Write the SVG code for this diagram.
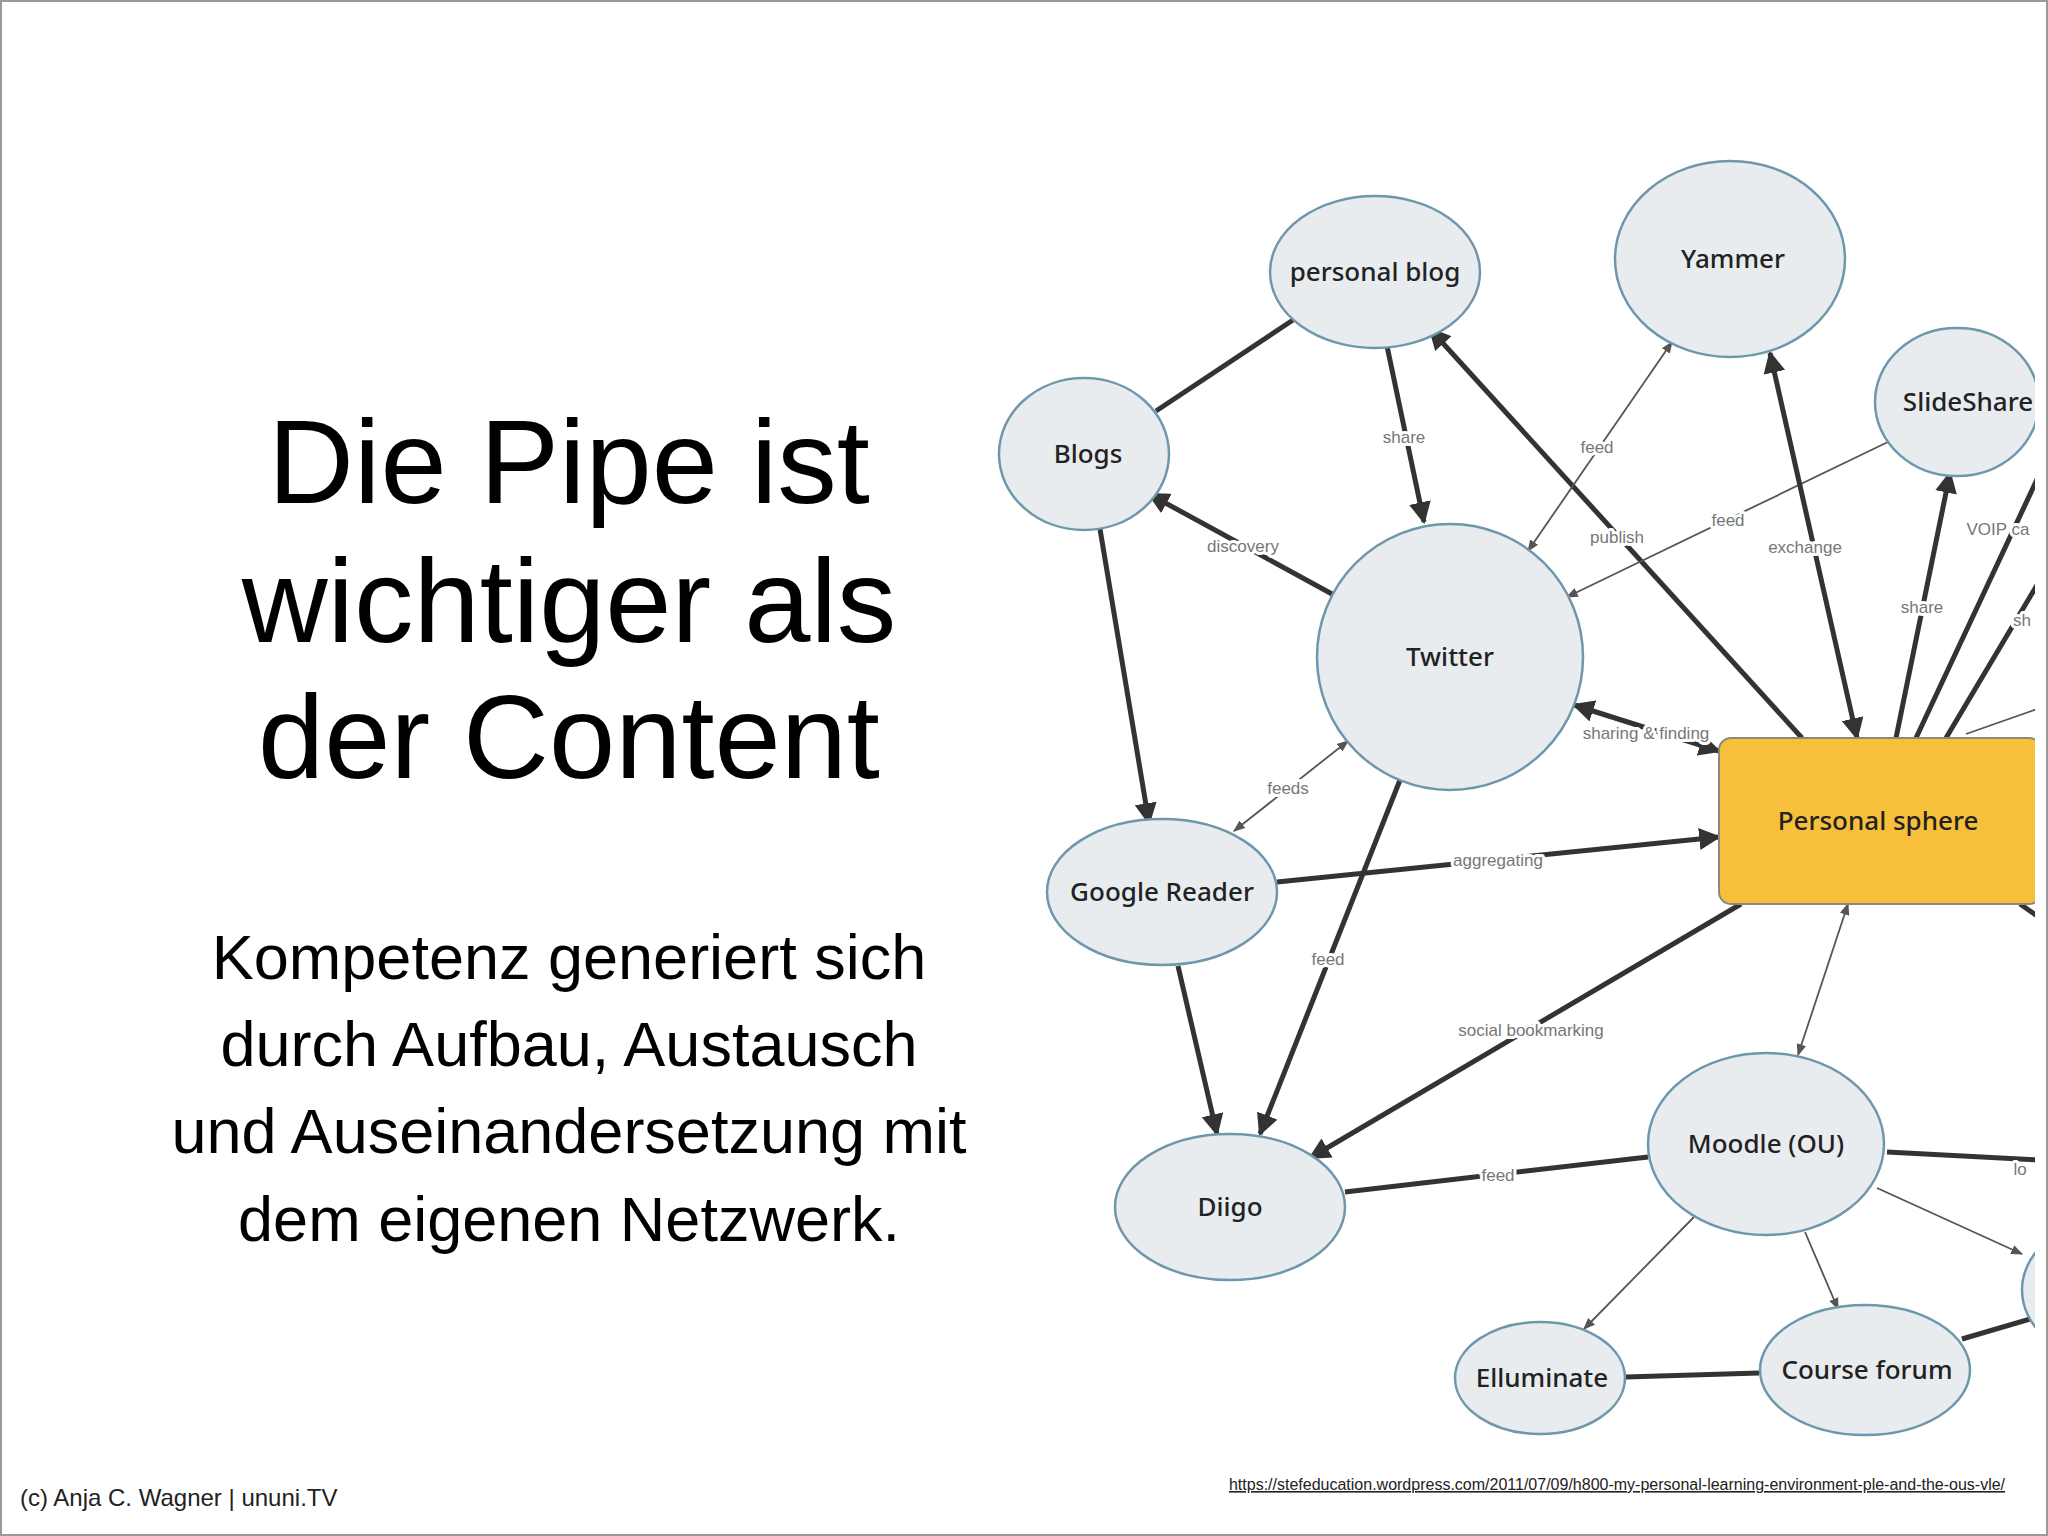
<svg xmlns="http://www.w3.org/2000/svg" width="2048" height="1536" viewBox="0 0 2048 1536">
<style>
.n{fill:#e9ecef;stroke:#6f97ab;stroke-width:2.5}
.nt{font-family:"Noto Sans","DejaVu Sans",sans-serif;font-weight:500;font-size:26px;fill:#222;text-anchor:middle}
.k{stroke:#333;stroke-width:5;fill:none}
.t{stroke:#555;stroke-width:1.8;fill:none}
.l{font-family:"Liberation Sans Narrow","Liberation Sans",sans-serif;font-size:17px;fill:#777;text-anchor:middle;stroke:#fff;stroke-width:6;paint-order:stroke;stroke-linejoin:round}
.h{font-family:"Liberation Sans",Arial,sans-serif;fill:#000;text-anchor:middle}
</style>
<defs>
<marker id="ak" viewBox="0 0 10 10" refX="9" refY="5" markerWidth="22" markerHeight="22" markerUnits="userSpaceOnUse" orient="auto-start-reverse"><path d="M0,0L10,5L0,10z" fill="#333"/></marker>
<marker id="at" viewBox="0 0 10 10" refX="9" refY="5" markerWidth="12" markerHeight="12" markerUnits="userSpaceOnUse" orient="auto-start-reverse"><path d="M0,1L10,5L0,9z" fill="#555"/></marker>
<clipPath id="c"><rect x="0" y="0" width="2035" height="1536"/></clipPath>
</defs>
<rect x="0" y="0" width="2048" height="1536" fill="#fff"/>
<rect x="1" y="1" width="2046" height="1534" fill="none" stroke="#999" stroke-width="2"/>
<g id="title">
<text class="h" x="569" y="503" font-size="119">Die Pipe ist</text>
<text class="h" x="569" y="642" font-size="119">wichtiger als</text>
<text class="h" x="569" y="778" font-size="119">der Content</text>
</g>
<g id="subtitle">
<text class="h" x="569" y="979" font-size="63">Kompetenz generiert sich</text>
<text class="h" x="569" y="1066" font-size="63">durch Aufbau, Austausch</text>
<text class="h" x="569" y="1153" font-size="63">und Auseinandersetzung mit</text>
<text class="h" x="569" y="1241" font-size="63">dem eigenen Netzwerk.</text>
</g>
<text x="20" y="1506" font-family="Liberation Sans,Arial,sans-serif" font-size="24" fill="#222">(c) Anja C. Wagner | ununi.TV</text>
<text x="1617" y="1490" font-family="Liberation Sans Narrow,Liberation Sans,sans-serif" font-size="16" fill="#222" text-anchor="middle" text-decoration="underline">https://stefeducation.wordpress.com/2011/07/09/h800-my-personal-learning-environment-ple-and-the-ous-vle/</text>
<g clip-path="url(#c)">
<g id="connectors">
<line class="k" x1="1293" y1="320" x2="1156" y2="411"/>
<line class="k" x1="1387" y1="346" x2="1424" y2="522" marker-end="url(#ak)"/>
<line class="k" x1="1332" y1="594" x2="1149" y2="494" marker-end="url(#ak)"/>
<line class="k" x1="1100" y1="529" x2="1149" y2="823" marker-end="url(#ak)"/>
<line class="k" x1="1802" y1="738" x2="1430" y2="329" marker-end="url(#ak)"/>
<line class="t" x1="1528" y1="551" x2="1672" y2="342" marker-start="url(#at)" marker-end="url(#at)"/>
<line class="t" x1="1890" y1="441" x2="1567" y2="597" marker-end="url(#at)"/>
<line class="k" x1="1857" y1="738" x2="1770" y2="353" marker-start="url(#ak)" marker-end="url(#ak)"/>
<line class="k" x1="1896" y1="738" x2="1950" y2="473" marker-end="url(#ak)"/>
<line class="k" x1="1916" y1="738" x2="2040" y2="473"/>
<line class="k" x1="1946" y1="738" x2="2040" y2="580"/>
<line class="t" x1="1966" y1="734" x2="2040" y2="708"/>
<line class="k" x1="1574" y1="705" x2="1719" y2="751" marker-start="url(#ak)" marker-end="url(#ak)"/>
<line class="t" x1="1234" y1="831" x2="1348" y2="741" marker-start="url(#at)" marker-end="url(#at)"/>
<line class="k" x1="1277" y1="882" x2="1719" y2="837" marker-end="url(#ak)"/>
<line class="k" x1="1400" y1="780" x2="1260" y2="1134" marker-end="url(#ak)"/>
<line class="k" x1="1178" y1="966" x2="1217" y2="1134" marker-end="url(#ak)"/>
<line class="k" x1="1741" y1="904" x2="1310" y2="1158" marker-end="url(#ak)"/>
<line class="k" x1="1648" y1="1157" x2="1345" y2="1192"/>
<line class="t" x1="1848" y1="904" x2="1798" y2="1055" marker-start="url(#at)" marker-end="url(#at)"/>
<line class="t" x1="1694" y1="1217" x2="1584" y2="1329" marker-end="url(#at)"/>
<line class="t" x1="1805" y1="1232" x2="1838" y2="1309" marker-end="url(#at)"/>
<line class="t" x1="1877" y1="1188" x2="2022" y2="1254" marker-end="url(#at)"/>
<line class="k" x1="1887" y1="1152" x2="2040" y2="1160"/>
<line class="k" x1="1626" y1="1377" x2="1759" y2="1373"/>
<line class="k" x1="1962" y1="1339" x2="2040" y2="1316"/>
<line class="k" x1="2020" y1="904" x2="2040" y2="918"/>
<text class="l" x="1404" y="443">share</text>
<text class="l" x="1243" y="552">discovery</text>
<text class="l" x="1617" y="543">publish</text>
<text class="l" x="1597" y="453">feed</text>
<text class="l" x="1728" y="526">feed</text>
<text class="l" x="1805" y="553">exchange</text>
<text class="l" x="1922" y="613">share</text>
<text class="l" x="1998" y="535" text-anchor="start">VOIP ca</text>
<text class="l" x="2022" y="626" text-anchor="start">sh</text>
<text class="l" x="1646" y="739">sharing &amp; finding</text>
<text class="l" x="1288" y="794">feeds</text>
<text class="l" x="1498" y="866">aggregating</text>
<text class="l" x="1328" y="965">feed</text>
<text class="l" x="1531" y="1036">social bookmarking</text>
<text class="l" x="1498" y="1181">feed</text>
<text class="l" x="2020" y="1175" text-anchor="start">lo</text>
</g>
<g id="personal-blog"><ellipse class="n" cx="1375" cy="272" rx="105" ry="76"/><text class="nt" x="1375" y="281">personal blog</text></g>
<g id="yammer"><ellipse class="n" cx="1730" cy="259" rx="115" ry="98"/><text class="nt" x="1733" y="268">Yammer</text></g>
<g id="slideshare"><ellipse class="n" cx="1957" cy="402" rx="82" ry="74"/><text class="nt" x="1968" y="411">SlideShare</text></g>
<g id="blogs"><ellipse class="n" cx="1084" cy="454" rx="85" ry="76"/><text class="nt" x="1088" y="463">Blogs</text></g>
<g id="twitter"><ellipse class="n" cx="1450" cy="657" rx="133" ry="133"/><text class="nt" x="1450" y="666">Twitter</text></g>
<g id="google-reader"><ellipse class="n" cx="1162" cy="892" rx="115" ry="73"/><text class="nt" x="1162" y="901">Google Reader</text></g>
<g id="personal-sphere"><rect x="1719" y="738" width="322" height="166" rx="12" fill="#f8c03a" stroke="#8a8a7a" stroke-width="2"/><text class="nt" x="1878" y="830">Personal sphere</text></g>
<g id="diigo"><ellipse class="n" cx="1230" cy="1207" rx="115" ry="73"/><text class="nt" x="1230" y="1216">Diigo</text></g>
<g id="moodle"><ellipse class="n" cx="1766" cy="1144" rx="118" ry="91"/><text class="nt" x="1766" y="1153">Moodle (OU)</text></g>
<g id="elluminate"><ellipse class="n" cx="1540" cy="1378" rx="85" ry="56"/><text class="nt" x="1542" y="1387">Elluminate</text></g>
<g id="course-forum"><ellipse class="n" cx="1865" cy="1370" rx="105" ry="65"/><text class="nt" x="1867" y="1379">Course forum</text></g>
<g id="partial-node"><ellipse class="n" cx="2110" cy="1290" rx="88" ry="70"/></g>
</g>
</svg>
